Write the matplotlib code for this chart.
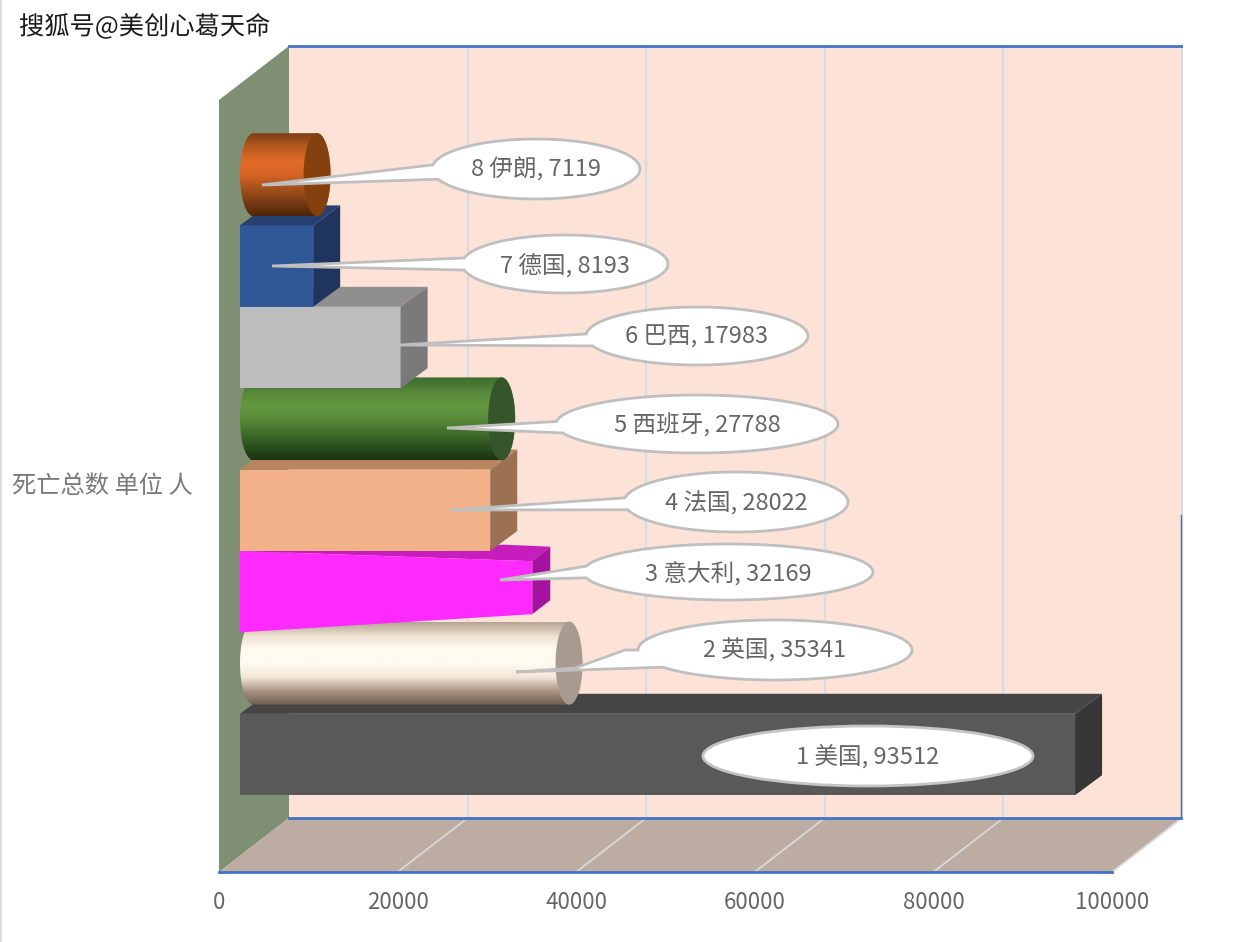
import matplotlib
matplotlib.use('Agg')
import matplotlib.pyplot as plt
import matplotlib.patheffects as pe
import numpy as np
from matplotlib.patches import Polygon, Ellipse, PathPatch, Rectangle
from matplotlib.path import Path
from matplotlib.transforms import Affine2D

plt.rcParams['font.family'] = ['Noto Sans CJK SC', 'DejaVu Sans']

# data
ranks = [1, 2, 3, 4, 5, 6, 7, 8]
countries = ['美国', '英国', '意大利', '法国', '西班牙', '巴西', '德国', '伊朗']
deaths = [93512, 35341, 32169, 28022, 27788, 17983, 8193, 7119]
xticks = [0, 20000, 40000, 60000, 80000, 100000]
ylabel = '死亡总数 单位 人'
watermark = '搜狐号@美创心葛天命'

# style per bar
shapes = ['box', 'cyl', 'taper', 'box', 'cyl', 'box', 'box', 'cyl']
box_colors = {0: ('#595959', '#454545', '#373737'),
              2: ('#ff2aff', '#c71dbd', '#a313a0'),
              3: ('#f3b189', '#b98560', '#9c7053'),
              5: ('#bdbdbd', '#8f8f8f', '#7a7a7a'),
              6: ('#2f5695', '#264070', '#1f355f')}
cyl_colors = {1: (['#b5a595', '#efe2d2', '#fffbf0', '#fffbf0', '#f3e6d8', '#a89484', '#6f5f52'], '#a89a90'),
              4: (['#3f6b2c', '#55863a', '#64983f', '#5a8c3a', '#426f2b', '#2d5120', '#1c3312'], '#35562a'),
              7: (['#7a3c12', '#b55a20', '#e06a28', '#d86526', '#a8521c', '#7a3c12', '#4f2509'], '#84410f')}

# callout layout in pixels: cx, cy, w, h, tip x, tip y, gap angles, extra points on the upper edge of the tail
callouts = [(868, 756, 330, 60, None, None, 0, 0, []),
            (775, 650, 274, 60, 516, 672, 180, 215, [(625, 650), (575, 668)]),
            (728, 572, 290, 56, 500, 580, 168, 192, []),
            (736, 502, 224, 60, 450, 510, 172, 195, []),
            (697, 424, 282, 58, 447, 428, 175, 198, []),
            (697, 336, 222, 58, 400, 345, 176, 200, []),
            (565, 264, 206, 58, 272, 266, 168, 192, []),
            (536, 169, 208, 60, 262, 185, 172, 200, [])]

PX_X = 0.00893  # pixels per death
PX_Y = 81.4     # pixels per row
W, H = 1258, 942


def dx(p):
    return p / PX_X


def dy(p):
    return p / PX_Y


def X(p):
    return (p - 240) / PX_X


def Y(p):
    return (754.5 - p) / PX_Y


fig = plt.figure(figsize=(W / 100, H / 100), dpi=100, facecolor='white')
ax = fig.add_axes([0, 0, 1, 1])
ax.set_axis_off()
xlim = (X(0), X(W))
ylim = (Y(H), Y(0))
pix = Affine2D().scale(1, -1).translate(0, H)  # y down, pixel positions

grid_back = '#d5dce2'
grid_floor = '#d9d9d9'
blue = '#4472c4'

# walls
ax.add_patch(Polygon([(X(219), Y(872)), (X(219), Y(100)), (X(289), Y(46)), (X(289), Y(818))],
                     fc='#7f8f73', ec='none', zorder=1))
ax.add_patch(Polygon([(X(289), Y(46)), (X(1181), Y(46)), (X(1181), Y(818)), (X(289), Y(818))],
                     fc='#fde3d7', ec='none', zorder=1))
ax.add_patch(Polygon([(X(219), Y(872)), (X(289), Y(818)), (X(1181), Y(818)), (X(1112), Y(872))],
                     fc='#bdaca2', ec='none', zorder=1))
for t in xticks[1:]:
    ax.plot([t + dx(49), t + dx(49)], [Y(46), Y(818)], color=grid_back, lw=1.6, zorder=2)
    ax.plot([t - dx(21), t + dx(49)], [Y(872), Y(818)], color=grid_floor, lw=1.3, zorder=2)
ax.plot([X(289), X(1181)], [Y(46), Y(46)], color=blue, lw=2, zorder=3)
ax.plot([X(289), X(1181)], [Y(818), Y(818)], color=blue, lw=2, zorder=3)
ax.plot([X(219), X(1112)], [Y(872), Y(872)], color=blue, lw=2, zorder=3)
ax.plot([X(1181), X(1181)], [Y(515), Y(818)], color=blue, lw=1, zorder=3)

# bars
D_X, D_Y = dx(27), dy(20)
half = 0.5
for i, v in enumerate(deaths):
    z = 10 + i
    if shapes[i] == 'box':
        front, top, side = box_colors[i]
        ax.barh(i, v, height=1.0, color=front, zorder=z)
        ax.add_patch(Polygon([(0, i + half), (v, i + half), (v + D_X, i + half + D_Y), (D_X, i + half + D_Y)],
                             fc=top, ec='none', zorder=z))
        ax.add_patch(Polygon([(v, i - half), (v, i + half), (v + D_X, i + half + D_Y), (v + D_X, i - half + D_Y)],
                             fc=side, ec='none', zorder=z))
    elif shapes[i] == 'taper':
        front, top, side = box_colors[i]
        r = v + dx(5)
        rt, rb = i + dy(30.5), i - dy(22.5)
        ax.add_patch(Polygon([(dx(264), i + dy(47)), (r + dx(18), i + dy(45)), (r, rt), (0, i + half)],
                             fc=top, ec='none', zorder=z))
        ax.add_patch(Polygon([(r, rt), (r + dx(18), i + dy(45)), (r + dx(18), rb + dy(14)), (r, rb)],
                             fc=side, ec='none', zorder=z))
        ax.add_patch(Polygon([(0, i + half), (r, rt), (r, rb), (0, i - half)],
                             fc=front, ec='none', zorder=z))
    else:
        stops, cap = cyl_colors[i]
        cy = i + dy(10)
        ex, ey = dx(13.5), dy(41.5)
        x0, x1 = ex, v + ex
        a = np.linspace(np.pi / 2, -np.pi / 2, 40)
        right = np.c_[x1 + ex * np.cos(a), cy + ey * np.sin(a)]
        left = np.c_[x0 - ex * np.cos(a), cy - ey * np.sin(a)]
        sil = np.vstack([right, left, right[:1]])
        clip = PathPatch(Path(sil), fc='none', ec='none', transform=ax.transData)
        ax.add_patch(clip)
        rgb = np.array([matplotlib.colors.to_rgb(c) for c in stops])
        pos = np.linspace(0, 1, len(stops))
        t = np.linspace(0, 1, 90)
        img = np.stack([np.interp(t, pos, rgb[:, k]) for k in range(3)], axis=1)[:, None, :]
        im = ax.imshow(img, extent=[0, v + 2 * ex, cy - ey, cy + ey], aspect='auto',
                       origin='upper', interpolation='bilinear', zorder=z)
        im.set_clip_path(clip)
        ax.add_patch(Ellipse((x1, cy), 2 * ex, 2 * ey, fc=cap, ec='none', zorder=z))

ax.set_xlim(xlim)
ax.set_ylim(ylim)

# callouts
label_color = '#666666'
for (cx, cy, w, h, tx, ty, a1, a2, extra), r, name, v in zip(callouts, ranks, countries, deaths):
    if tx is None:
        ax.add_patch(Ellipse((cx, cy), w, h, fc='white', ec='#c4c4c4', lw=2, transform=pix, zorder=30))
    else:
        # walk the ellipse the long way round, leaving the gap for the tail
        ang = np.radians(np.linspace(a2, a1 + 360, 160))
        pts = np.c_[cx + w / 2 * np.cos(ang), cy - h / 2 * np.sin(ang)]
        tail = np.array(extra + [(tx, ty)], dtype=float)
        pts = np.vstack([pts, tail])
        ax.add_patch(Polygon(pts, closed=True, fc='white', ec='#bfbfbf', lw=2, joinstyle='miter',
                             transform=pix, zorder=30))
    ax.text(cx, cy + 1, f'{r} {name}, {v}', color=label_color, fontsize=17, ha='center', va='center',
            transform=pix, zorder=31)

# axis labels
for t in xticks:
    ax.text(t - dx(21), Y(902.5), str(t), color=label_color, fontsize=16, ha='center', va='center', zorder=5)
ax.text(12, 486, ylabel, color='#7a7a7a', fontsize=17.5, ha='left', va='center', transform=pix, zorder=5)

# left edge strip and watermark
ax.add_patch(Rectangle((0, 0), 2, H, fc='#dcdcdc', ec='none', transform=pix, zorder=40))
ax.text(19, 27, watermark, color='#1a1a1a', fontsize=18.2, ha='left', va='center', transform=pix, zorder=40,
        path_effects=[pe.withStroke(linewidth=1.5, foreground='white')])

fig.savefig('out.png', dpi=100)
